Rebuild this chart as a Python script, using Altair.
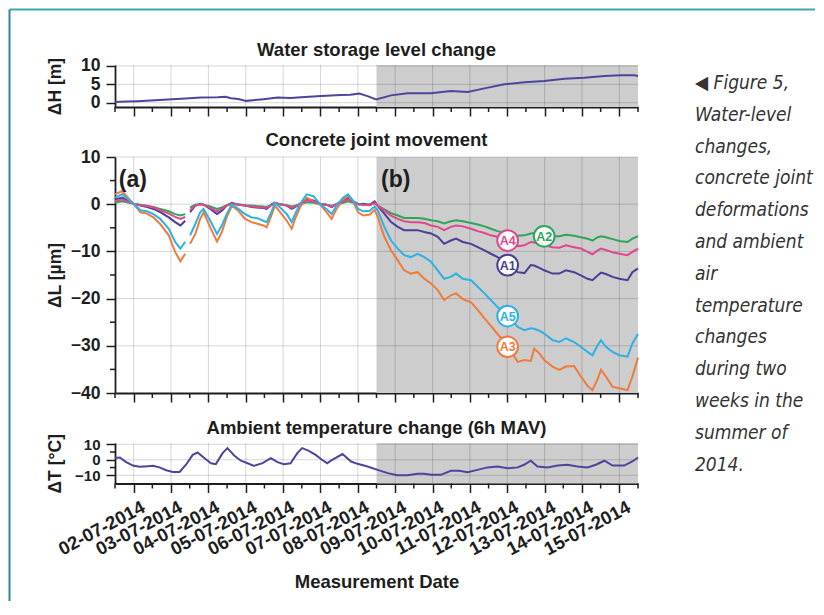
import altair as alt
import pandas as pd

# ---------------- data ----------------
DATE_LABELS = ["02-07-2014", "03-07-2014", "04-07-2014", "05-07-2014", "06-07-2014",
               "07-07-2014", "08-07-2014", "09-07-2014", "10-07-2014", "11-07-2014",
               "12-07-2014", "13-07-2014", "14-07-2014", "15-07-2014"]
DAY_TICKS = [1, 2, 3, 4, 5, 6, 7, 8, 9, 10, 11, 12, 13, 14]
HALF_TICKS = [0.5, 1.5, 2.5, 3.5, 4.5, 5.5, 6.5, 7.5, 8.5, 9.5, 10.5, 11.5, 12.5, 13.5, 14.5]
X_DOMAIN = [0.5, 14.5]
SHADE_START = [7.5]
SHADE_END = [14.5]

# water storage level change (days since 01-07-2014 00:00, metres)
TIME_H = [0.5, 0.8, 1.1, 1.46, 1.8, 2.27, 2.81, 3.25, 3.45, 3.61, 3.8, 4.01, 4.2, 4.41,
          4.86, 5.2, 5.48, 6.02, 6.55, 6.8, 7.04, 7.26, 7.49, 7.89, 8.33, 8.96, 9.49, 9.94,
          10.39, 10.92, 11.46, 11.99, 12.53, 13.06, 13.6, 14.04, 14.4, 14.5]
DH = [0.2, 0.3, 0.4, 0.6, 0.8, 1.1, 1.4, 1.5, 1.6, 1.2, 1.0, 0.5, 0.7, 0.9,
      1.4, 1.3, 1.5, 1.8, 2.1, 2.2, 2.5, 1.8, 0.9, 2.0, 2.6, 2.6, 3.2, 2.9,
      3.9, 5.0, 5.6, 5.9, 6.5, 6.8, 7.3, 7.5, 7.5, 7.3]

# ambient temperature change (6h MAV)
TIME_T = [0.5, 0.63, 0.8, 0.98, 1.16, 1.38, 1.52, 1.69, 1.87, 2.05, 2.23, 2.40, 2.58, 2.71,
          2.89, 3.07, 3.20, 3.38, 3.51, 3.69, 3.87, 4.05, 4.22, 4.45, 4.67, 4.85, 5.02, 5.20,
          5.38, 5.51, 5.69, 5.87, 6.04, 6.18, 6.28, 6.59, 6.82, 6.99, 7.26, 7.53, 7.80, 8.06,
          8.33, 8.60, 8.78, 8.96, 9.22, 9.49, 9.71, 9.94, 10.2, 10.47, 10.74, 11.01, 11.28,
          11.45, 11.63, 11.81, 12.08, 12.35, 12.61, 12.88, 13.15, 13.37, 13.6, 13.82, 14.13,
          14.35, 14.5]
DT = [1.1, 1.5, -1.5, -3.7, -4.5, -4.1, -3.9, -4.9, -6.7, -7.8, -7.8, -3.2, 3.2, 4.7,
      1.1, -2.2, -2.8, 4.3, 7.5, 2.8, -0.6, -2.2, -3.9, -2.2, 1.1, -1.5, -2.8, -2.2,
      4.3, 7.5, 5.8, 3.2, 0.0, -2.2, -0.5, 3.7, -1.1, -2.6, -4.3, -6.5, -8.6, -9.9,
      -9.9, -9.0, -9.0, -9.7, -9.7, -7.1, -7.1, -8.0, -6.5, -4.9, -4.3, -5.4, -4.9,
      -3.2, -0.6, -4.3, -4.9, -3.7, -3.2, -4.3, -4.9, -3.2, -0.6, -3.7, -3.7,
      -1.1, 1.5]

# concrete joint movement (µm); the record has a gap after GAP_AFTER
TIME_L = [0.5, 0.69, 1.0, 1.18, 1.36, 1.53, 1.71, 1.94, 2.11, 2.25, 2.38,
          2.51, 2.65, 2.78, 2.87, 3.05, 3.23, 3.36, 3.49, 3.63, 3.80, 3.98, 4.16, 4.29, 4.47,
          4.56, 4.70, 4.78, 4.92, 5.10, 5.23, 5.32, 5.45, 5.63, 5.81, 5.99, 6.16, 6.30, 6.43,
          6.61, 6.74, 6.88, 7.01, 7.14, 7.32, 7.45,
          7.53, 7.71, 7.89, 8.07, 8.24, 8.42, 8.60, 8.78, 8.96, 9.14, 9.31, 9.49, 9.63, 9.81,
          10.03, 10.21, 10.39, 10.56, 10.74, 11.01, 11.28, 11.46, 11.63, 11.72, 11.86, 11.99,
          12.21, 12.39, 12.57, 12.79, 12.97, 13.15, 13.28, 13.42, 13.51, 13.64, 13.82, 14.0,
          14.22, 14.35, 14.5]
GAP_AFTER = 2.38

A1 = [1.0, 1.4, 0.1, -0.3, -0.6, -1.0, -1.7, -2.8, -3.8, -4.5, -3.5,
      -1.7, -0.3, 0.1, -0.1, -1.0, -2.1, -1.4, -0.3, 0.3, -0.1, -0.3, -0.6, -0.7, -0.8,
      -1.0, 0.0, 0.3, 0.0, -0.3, -1.0, -0.6, 0.1, 1.0, 0.8, 0.1, -0.1, -0.6, 0.0,
      0.8, 1.4, 0.6, 0.0, 0.1, -0.1, 0.6,
      -0.3, -2.0, -3.8, -4.8, -5.5, -5.5, -5.5, -5.9, -6.2, -6.9, -8.4, -7.7, -7.3, -8.0,
      -8.4, -9.1, -9.8, -10.5, -11.2, -12.9, -14.4, -14.6, -12.9, -13.0, -13.5, -14.0,
      -14.7, -14.7, -14.0, -14.4, -15.1, -15.8, -16.1, -15.1, -14.5, -14.8, -15.4, -15.8,
      -16.1, -14.4, -13.6]
A2 = [0.3, 0.6, 0.1, -0.1, -0.3, -0.6, -1.0, -1.5, -2.1, -2.4, -2.1,
      -0.7, -0.1, 0.0, -0.1, -0.5, -1.0, -0.7, -0.2, 0.1, 0.0, -0.2, -0.3, -0.4, -0.5,
      -0.6, -0.1, 0.1, 0.0, -0.2, -0.5, -0.3, 0.0, 0.4, 0.3, 0.0, -0.1, -0.3, 0.0,
      0.3, 0.6, 0.3, 0.0, -0.1, -0.1, 0.2,
      -0.3, -1.1, -1.9, -2.4, -2.9, -2.9, -2.9, -3.1, -3.4, -3.6, -4.1, -3.6, -3.4, -3.6,
      -4.0, -4.3, -4.7, -5.2, -5.7, -6.2, -6.7, -6.6, -6.2, -6.1, -6.4, -6.8,
      -6.8, -6.8, -6.5, -6.7, -7.0, -7.3, -7.7, -7.0, -6.8, -7.0, -7.4, -7.8,
      -8.0, -7.3, -6.8]
A3 = [2.1, 2.8, 0.0, -1.7, -2.0, -2.8, -4.2, -6.6, -10.1, -12.1, -10.5,
      -8.4, -6.3, -3.1, -1.7, -4.9, -7.9, -5.9, -2.8, -0.3, -1.4, -3.1, -3.8, -4.1, -4.5,
      -4.9, -2.1, -0.3, -1.7, -3.5, -5.2, -3.1, -0.7, 1.4, 0.6, -0.1, -1.7, -3.1, -1.0,
      1.0, 1.7, 0.4, -1.7, -2.4, -2.2, -1.2,
      -2.7, -6.9, -9.8, -11.9, -14.0, -14.7, -14.4, -15.8, -16.8, -18.2, -20.3, -19.3,
      -18.9, -20.1, -20.8, -22.4, -24.2, -25.8, -27.5, -30.0, -33.4, -33.0, -33.2, -30.6,
      -31.6, -33.0, -34.4, -35.1, -34.4, -34.3, -36.5, -38.5, -39.4, -37.0, -35.1, -36.5,
      -38.7, -39.0, -39.4, -36.5, -32.5]
A4 = [0.7, 1.0, 0.1, -0.2, -0.4, -0.7, -1.3, -2.0, -2.7, -3.1, -2.7,
      -1.3, -0.3, 0.0, -0.1, -0.8, -1.5, -1.0, -0.3, 0.1, -0.1, -0.3, -0.5, -0.6, -0.7,
      -0.8, -0.1, 0.2, 0.0, -0.3, -0.8, -0.5, 0.1, 0.8, 0.6, 0.1, -0.1, -0.5, 0.0,
      0.6, 1.0, 0.5, 0.0, -0.1, -0.2, 0.3,
      -0.3, -1.3, -2.4, -3.1, -3.6, -3.8, -3.8, -4.0, -4.5, -4.8, -5.5, -4.8, -4.5, -4.7,
      -5.2, -5.7, -6.1, -6.6, -6.9, -7.7, -8.9, -8.7, -8.0, -8.1, -8.5, -8.7,
      -9.1, -9.2, -8.7, -9.1, -9.4, -10.1, -10.6, -9.8, -9.4, -9.7, -10.2, -10.5,
      -10.8, -10.1, -9.4]
A5 = [1.4, 2.1, 0.1, -1.3, -1.5, -2.1, -3.1, -5.2, -8.0, -9.4, -8.0,
      -6.6, -4.2, -1.7, -1.0, -3.5, -6.3, -4.5, -2.1, 0.0, -1.0, -2.1, -2.8, -2.9, -3.5,
      -3.8, -1.4, 0.3, -0.7, -2.1, -3.8, -2.1, 0.0, 2.1, 1.7, 0.0, -1.0, -2.1, -0.3,
      1.4, 2.1, 0.7, -1.0, -1.5, -1.4, -0.5,
      -1.3, -4.8, -7.7, -9.4, -10.8, -11.2, -10.5, -11.2, -12.2, -14.0, -15.8, -15.4,
      -14.7, -15.8, -16.1, -17.5, -18.9, -20.3, -21.8, -23.7, -26.0, -26.7, -26.3, -26.4,
      -26.8, -27.4, -28.8, -29.2, -28.4, -29.2, -30.2, -31.3, -32.0, -29.9, -28.8, -30.2,
      -31.3, -32.0, -32.3, -29.5, -27.5]

SERIES = ["A1", "A2", "A3", "A4", "A5"]
COLORS = ["#4a3f96", "#2ea55c", "#ef7b3d", "#e0478c", "#2bb2e4"]
BADGE_X = [11.01, 11.99, 11.01, 11.01, 11.01]
BADGE_Y = [-12.9, -6.8, -30.2, -7.7, -23.7]

PANEL_TAGS = ["(a)", "(b)"]
PANEL_TAG_X = [0.6, 7.62]
PANEL_TAG_Y = [3.6, 3.6]

TITLES = ["Water storage level change", "Concrete joint movement",
          "Ambient temperature change (6h MAV)"]
Y_TITLES = ["ΔH [m]", "ΔL [µm]", "ΔT [°C]"]
CAPTION = ["◀ Figure 5,", "Water-level", "changes,", "concrete joint", "deformations",
           "and ambient", "air", "temperature", "changes", "during two",
           "weeks in the", "summer of", "2014."]

# ---------------- style ----------------
FONT = "Liberation Sans, Arial, sans-serif"
CAP_FONT = "Liberation Sans Narrow, DejaVu Sans Condensed, sans-serif"
INK = "#1e1e1e"
LINE_BLUE = "#4a469c"
SHADE = "#cdcdcd"
W = 523
H_TOP, H_MID, H_BOT = 42, 236, 40.5

LABEL_EXPR = "[" + ",".join("'%s'" % s for s in DATE_LABELS) + "][datum.value - 1]"

xscale = alt.Scale(domain=X_DOMAIN, nice=False, zero=False)


def x_axis(labels):
    common = dict(values=DAY_TICKS, grid=False, domainColor=INK, domainWidth=1.8,
                  tickColor=INK, tickWidth=1.5, tickSize=9)
    if labels:
        return alt.Axis(labels=True, labelExpr=LABEL_EXPR, labelAngle=332,
                        labelAlign="right", labelBaseline="top", labelPadding=5,
                        labelOffset=5,
                        labelFont=FONT, labelFontSize=18.5, labelFontWeight="bold",
                        labelColor=INK, labelOverlap=False, labelFlush=False,
                        title="Measurement Date", titleFont=FONT, titleFontSize=18.5,
                        titleFontWeight="bold", titleColor=INK, titleX=W / 2, titleY=104,
                        titleAlign="center", titleBaseline="alphabetic", **common)
    return alt.Axis(labels=False, title=None, **common)


def y_axis(values, title, height, label_size):
    return alt.Axis(values=values, grid=False, domainColor=INK, domainWidth=1.8,
                    tickColor=INK, tickWidth=1.5, tickSize=9, labelFont=FONT,
                    labelFontSize=label_size, labelFontWeight="bold", labelColor=INK,
                    labelPadding=6, labelOverlap=False, labelFlush=False,
                    title=title, titleFont=FONT, titleFontSize=17.5,
                    titleFontWeight="bold", titleColor=INK, titleX=-60, titleY=height / 2,
                    titleAngle=270, titleAlign="center", titleBaseline="middle")


ONE = pd.DataFrame({"k": [0]})
shade_df = pd.DataFrame({"x0": SHADE_START, "x1": SHADE_END})
day_df = pd.DataFrame({"day": DAY_TICKS})
half_df = pd.DataFrame({"half": HALF_TICKS})


def panel(line_layers, ydomain, yvalues, ygrid, yminor, ytitle, height, title, labels,
          title_dy, label_size=17.5, extra=()):
    xa = x_axis(labels)
    ya = y_axis(yvalues, ytitle, height, label_size)
    ys = alt.Scale(domain=ydomain, nice=False, zero=False)

    def X(f):
        return alt.X(f, type="quantitative", scale=xscale, axis=xa)

    def Y(f):
        return alt.Y(f, type="quantitative", scale=ys, axis=ya)

    layers = [
        alt.Chart(shade_df).mark_rect(color=SHADE).encode(
            x=X("x0"), x2=alt.X2("x1"), y=alt.value(0), y2=alt.value(height)),
        alt.Chart(day_df).mark_rule(color="black", strokeOpacity=0.16, strokeWidth=1).encode(
            x=X("day"), y=alt.value(0), y2=alt.value(height)),
        alt.Chart(pd.DataFrame({"g": ygrid})).mark_rule(
            color="black", strokeOpacity=0.16, strokeWidth=1).encode(
            y=Y("g"), x=alt.value(0), x2=alt.value(W)),
    ]
    for make in line_layers:
        layers.append(make(X, Y))
    layers.append(alt.Chart(half_df).mark_rule(color=INK, strokeWidth=1.5).encode(
        x=X("half"), y=alt.value(height), y2=alt.value(height + 5)))
    if yminor:
        layers.append(alt.Chart(pd.DataFrame({"m": yminor})).mark_rule(
            color=INK, strokeWidth=1.5).encode(y=Y("m"), x=alt.value(-5), x2=alt.value(0)))
    layers.append(alt.Chart(ONE).mark_text(
        text=title, font=FONT, fontSize=18.5, fontWeight="bold", color=INK,
        align="center", baseline="alphabetic").encode(
        x=alt.value(W / 2), y=alt.value(title_dy)))
    for make in extra:
        layers.append(make(X, Y))
    return alt.layer(*layers).properties(width=W, height=height)


h_df = pd.DataFrame({"t": TIME_H, "v": DH})
t_df = pd.DataFrame({"t": TIME_T, "v": DT})

rows = []
for name, vals in zip(SERIES, [A1, A2, A3, A4, A5]):
    for t, v in zip(TIME_L, vals):
        rows.append({"t": t, "v": v, "series": name, "seg": 0 if t <= GAP_AFTER else 1})
l_df = pd.DataFrame(rows)
badge_df = pd.DataFrame({"series": SERIES, "x": BADGE_X, "y": BADGE_Y})
tag_df = pd.DataFrame({"tag": PANEL_TAGS, "x": PANEL_TAG_X, "y": PANEL_TAG_Y})
cscale = alt.Scale(domain=SERIES, range=COLORS)

top = panel(
    [lambda X, Y: alt.Chart(h_df).mark_line(color=LINE_BLUE, strokeWidth=2).encode(
        x=X("t"), y=Y("v"))],
    [-1.17, 10.27], [0, 5, 10], [0, 5, 10], [], Y_TITLES[0], H_TOP, TITLES[0], False, -9,
    extra=[
        lambda X, Y: alt.Chart(ONE).mark_text(
            text=CAPTION, font=CAP_FONT, fontSize=19, fontStyle="italic", color="#333333",
            align="left", baseline="alphabetic", lineHeight=31.8).encode(
            x=alt.value(580), y=alt.value(24)),
        lambda X, Y: alt.Chart(ONE).mark_rule(color="#43a5ad", strokeWidth=2).encode(
            x=alt.value(-105.5), x2=alt.value(700), y=alt.value(-55.5)),
        lambda X, Y: alt.Chart(ONE).mark_rule(color="#2f84a3", strokeWidth=2).encode(
            x=alt.value(-105.5), y=alt.value(-55.5), y2=alt.value(536)),
    ])

mid = panel(
    [lambda X, Y: alt.Chart(l_df).mark_line(strokeWidth=2).encode(
        x=X("t"), y=Y("v"),
        color=alt.Color("series:N", scale=cscale, legend=None),
        detail="seg:N")],
    [-40, 10], [-40, -30, -20, -10, 0, 10], [-30, -20, -10, 0, 10],
    [-35, -25, -15, -5, 5], Y_TITLES[1], H_MID, TITLES[1], False, -11,
    extra=[
        lambda X, Y: alt.Chart(tag_df).mark_text(
            font=FONT, fontSize=23, fontWeight="bold", color=INK, align="left",
            baseline="alphabetic").encode(x=X("x"), y=Y("y"), text="tag:N"),
        lambda X, Y: alt.Chart(badge_df).mark_point(
            shape="circle", filled=True, fill="white", fillOpacity=1, opacity=1,
            size=430, strokeWidth=2).encode(
            x=X("x"), y=Y("y"),
            stroke=alt.Stroke("series:N", scale=cscale, legend=None)),
        lambda X, Y: alt.Chart(badge_df).mark_text(
            font=FONT, fontSize=12.5, fontWeight="bold", align="center",
            baseline="middle", dy=0.5).encode(
            x=X("x"), y=Y("y"), text="series:N",
            color=alt.Color("series:N", scale=cscale, legend=None)),
    ])

bot = panel(
    [lambda X, Y: alt.Chart(t_df).mark_line(color=LINE_BLUE, strokeWidth=2).encode(
        x=X("t"), y=Y("v"))],
    [-15.3, 10.84], [-10, 0, 10], [-10, 0, 10], [-5, 5], Y_TITLES[2], H_BOT, TITLES[2],
    True, -9.3, label_size=15)

chart = alt.vconcat(top, mid, bot, spacing=50, bounds="flush").properties(
    padding={"left": 0, "top": 0, "right": 0, "bottom": 0}, background="white",
    autosize=alt.AutoSizeParams(type="pad")
).configure_view(stroke=None)

chart.save("out.html", embed_options={"renderer": "svg", "actions": False})
